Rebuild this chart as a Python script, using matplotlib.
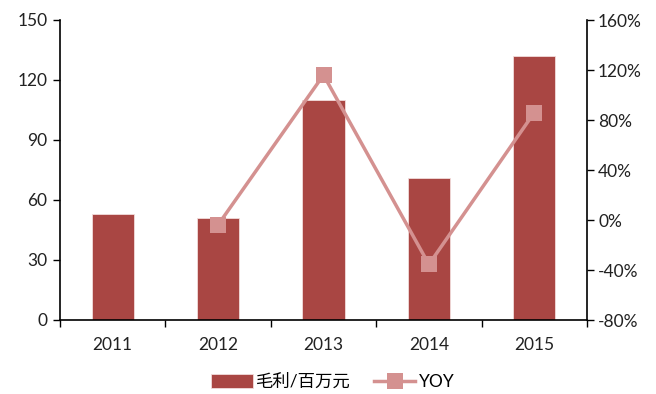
import matplotlib
matplotlib.use("Agg")
import matplotlib.pyplot as plt
import numpy as np
from matplotlib.ticker import FuncFormatter

plt.rcParams['font.family'] = ['Lato', 'Noto Sans CJK SC', 'DejaVu Sans']

years = ["2011", "2012", "2013", "2014", "2015"]
gross_profit = [53, 51, 110, 71, 132]          # 毛利/百万元
yoy = [None, -3.8, 116, -35.5, 86]              # YOY, %

bar_color = "#A94643"
line_color = "#D49190"
fs = 12.5

fig = plt.figure(figsize=(6.56, 3.94), dpi=100)
ax = fig.add_axes([60 / 656, 74 / 394, 527 / 656, 300 / 394])
ax2 = ax.twinx()

x = np.arange(len(years))
bars = ax.bar(x, gross_profit, width=0.4, color=bar_color,
              edgecolor="#F2DCDB", linewidth=0.6, label="毛利/百万元", zorder=2)

yx = [i for i, v in enumerate(yoy) if v is not None]
yv = [v for v in yoy if v is not None]
line, = ax2.plot(yx, yv, color=line_color, linewidth=2.5, marker="s",
                 markersize=11, markeredgewidth=0, label="YOY", zorder=3)

ax.set_xlim(-0.5, len(years) - 0.5)
ax.set_ylim(0, 150)
ax.set_yticks(np.arange(0, 151, 30))
ax2.set_ylim(-80, 160)
ax2.set_yticks(np.arange(-80, 161, 40))
ax2.yaxis.set_major_formatter(FuncFormatter(lambda v, p: f"{v:.0f}%"))

ax.set_xticks(x)
ax.set_xticklabels(years)
ax.set_xticks(np.arange(-0.5, len(years), 1), minor=True)
ax.tick_params(axis="x", which="major", length=0, pad=12, labelsize=fs, colors="#222222")
ax.tick_params(axis="x", which="minor", length=5, width=1, direction="out", color="black")
ax.tick_params(axis="y", length=5, width=1, direction="out", labelsize=fs, colors="#222222", pad=4)
ax2.tick_params(axis="y", length=5, width=1, direction="out", labelsize=fs, colors="#222222", pad=3)
for a in (ax, ax2):
    a.tick_params(axis="both", color="black")

ax.spines["top"].set_visible(False)
ax2.spines["top"].set_visible(False)
ax.spines["right"].set_visible(False)
ax2.spines["left"].set_visible(False)
ax2.spines["bottom"].set_visible(False)
for sp in (ax.spines["left"], ax.spines["bottom"], ax2.spines["right"]):
    sp.set_color("black")
    sp.set_linewidth(1.2)

ax.set_zorder(1)
ax2.set_zorder(2)

fig.legend([bars, line], ["毛利/百万元", "YOY"], loc="center",
           bbox_to_anchor=(333 / 656, 1 - 382 / 394), ncol=2, frameon=False,
           fontsize=fs, handlelength=2.4, handleheight=0.8, columnspacing=1.3,
           handletextpad=0.2)

fig.savefig("out.png", dpi=100)
